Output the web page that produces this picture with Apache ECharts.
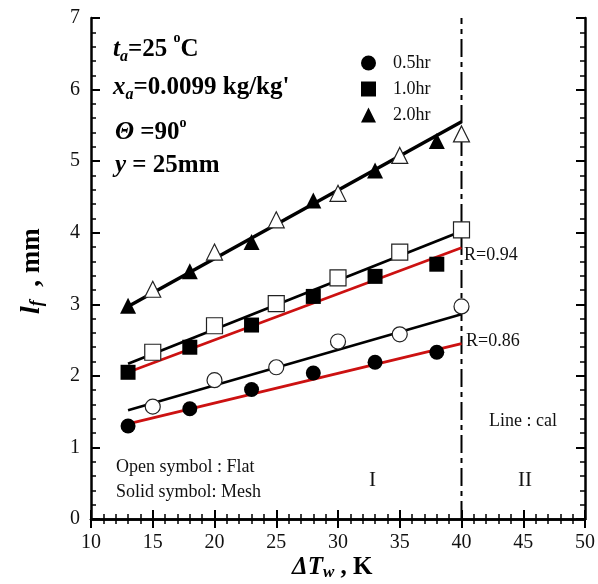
<!DOCTYPE html>
<html>
<head>
<meta charset="utf-8">
<script src="https://cdn.jsdelivr.net/npm/echarts@6/dist/echarts.min.js"></script>
<style>
html, body { margin: 0; padding: 0; background: #fff; }
#main { width: 598px; height: 584px; }
</style>
</head>
<body>
<div id="main"></div>
<script>
// data
var xSolid = [13, 18, 23, 28, 33, 38];
var xOpen = [15, 20, 25, 30, 35, 40];
var mesh05 = [1.30, 1.54, 1.81, 2.04, 2.19, 2.33];
var flat05 = [1.57, 1.94, 2.12, 2.48, 2.58, 2.97];
var mesh10 = [2.05, 2.40, 2.71, 3.11, 3.39, 3.56];
var flat10 = [2.33, 2.70, 3.01, 3.37, 3.73, 4.04];
var mesh20 = [2.98, 3.46, 3.87, 4.45, 4.87, 5.28];
var flat20 = [3.21, 3.73, 4.18, 4.55, 5.08, 5.38];

// calculated lines
var calX = [13, 40];
var cal05Flat = [1.52, 2.86];
var cal05Mesh = [1.33, 2.45];
var cal10Flat = [2.17, 4.02];
var cal10Mesh = [2.05, 3.79];
var cal20 = [2.97, 5.55];

var xTicks = [10, 15, 20, 25, 30, 35, 40, 45, 50];
var yTicks = [0, 1, 2, 3, 4, 5, 6, 7];
var boundaryX = 40;

var FONT = '"Liberation Serif", "Times New Roman", serif';

function pairs(xs, ys) {
    return xs.map(function(x, i) { return [x, ys[i]]; });
}

function solid(name, sym, size, ys) {
    return {
        name: name, type: 'scatter', symbol: sym, symbolSize: size,
        data: pairs(xSolid, ys), z: 5,
        itemStyle: { color: '#000', opacity: 1 }
    };
}
function open(sym, size, ys) {
    return {
        name: 'open-' + sym, type: 'scatter', symbol: sym, symbolSize: size,
        data: pairs(xOpen, ys), z: 5,
        itemStyle: { color: '#fff', borderColor: '#222', borderWidth: 1.2, opacity: 1 }
    };
}
function cal(ys, color, w) {
    return {
        type: 'line', data: pairs(calX, ys), symbol: 'none', z: 3,
        lineStyle: { color: color, width: w }, silent: true
    };
}

var axisCommon = {
    type: 'value',
    axisLine: { show: true, lineStyle: { color: '#000', width: 2.5 } },
    axisTick: { show: true, inside: true, length: 9, lineStyle: { color: '#000', width: 2 } },
    minorTick: { show: true, splitNumber: 5, length: 5, lineStyle: { color: '#000', width: 1.5 } },
    splitLine: { show: false }
};

function xAxis(pos, labels) {
    return echarts.util.merge({
        position: pos, min: xTicks[0], max: xTicks[xTicks.length - 1], interval: 5,
        axisLabel: { show: labels, color: '#111', fontFamily: FONT, fontSize: 20, margin: 14 }
    }, axisCommon, true);
}
function yAxis(pos, labels) {
    return echarts.util.merge({
        position: pos, min: yTicks[0], max: yTicks[yTicks.length - 1], interval: 1,
        axisLabel: { show: labels, color: '#111', fontFamily: FONT, fontSize: 20, margin: 11 }
    }, axisCommon, true);
}

var chart = echarts.init(document.getElementById('main'));

var bold = function(size, italic, lh, va, pad) {
    var s = { fontFamily: FONT, fontSize: size, fontWeight: 'bold', lineHeight: lh };
    if (italic) s.fontStyle = 'italic';
    if (va) s.verticalAlign = va;
    if (pad) s.padding = pad;
    return s;
};

var option = {
    backgroundColor: '#fff',
    animation: false,
    grid: { left: 91, right: 12, top: 18, bottom: 65 },
    xAxis: [xAxis('bottom', true), xAxis('top', false)],
    yAxis: [yAxis('left', true), yAxis('right', false)],
    legend: {
        orient: 'vertical', left: 356, top: 49,
        itemWidth: 15, itemHeight: 15, itemGap: 8,
        textStyle: { fontFamily: FONT, fontSize: 18, color: '#111', padding: [0, 0, 0, 12] },
        data: [
            { name: '0.5hr', icon: 'circle' },
            { name: '1.0hr', icon: 'rect' },
            { name: '2.0hr', icon: 'triangle' }
        ]
    },
    series: [
        cal(cal05Flat, '#000', 2.5),
        cal(cal05Mesh, '#cc1111', 2.8),
        cal(cal10Flat, '#000', 2.8),
        cal(cal10Mesh, '#cc1111', 2.8),
        cal(cal20, '#000', 3.5),
        {
            type: 'line', symbol: 'none', silent: true, z: 2,
            data: [[boundaryX, yTicks[0]], [boundaryX, yTicks[yTicks.length - 1]]],
            lineStyle: { color: '#000', width: 2, type: [18, 5, 5, 5] }
        },
        solid('0.5hr', 'circle', 15, mesh05),
        solid('1.0hr', 'rect', 15, mesh10),
        solid('2.0hr', 'triangle', 16, mesh20),
        open('circle', 15, flat05),
        open('rect', 16, flat10),
        open('triangle', 16, flat20)
    ],
    graphic: [
        {
            type: 'text', left: 113, top: 31,
            style: {
                text: '{i|t}{sub|a}{b|=25 }{sup|o}{b|C}\n{i|x}{sub|a}{b|=0.0099 kg/kg\'}',
                rich: {
                    i: bold(25, true, 38),
                    b: bold(25, false, 38),
                    sub: bold(16, true, 20, 'bottom', [0, 0, 4, 0]),
                    sup: bold(14, false, 28, 'top')
                },
                fill: '#000'
            }
        },
        {
            type: 'text', left: 115, top: 116,
            style: {
                text: '{i|Θ}{b| =90}{sup|o}\n{i|y}{b| = 25mm}',
                rich: {
                    i: bold(25, true, 33),
                    b: bold(25, false, 33),
                    sup: bold(14, false, 24, 'top')
                },
                fill: '#000'
            }
        },
        { type: 'text', left: 464, top: 246, style: { text: 'R=0.94', fontFamily: FONT, fontSize: 18, fill: '#111' } },
        { type: 'text', left: 466, top: 332, style: { text: 'R=0.86', fontFamily: FONT, fontSize: 18, fill: '#111' } },
        { type: 'text', left: 489, top: 412, style: { text: 'Line : cal', fontFamily: FONT, fontSize: 18, fill: '#111' } },
        { type: 'text', left: 369, top: 470, style: { text: 'I', fontFamily: FONT, fontSize: 21, fill: '#111' } },
        { type: 'text', left: 518, top: 470, style: { text: 'II', fontFamily: FONT, fontSize: 21, fill: '#111' } },
        {
            type: 'text', left: 116, top: 455,
            style: { text: 'Open symbol : Flat\nSolid symbol: Mesh', fontFamily: FONT, fontSize: 18, lineHeight: 25, fill: '#111' }
        },
        {
            type: 'text', left: 292, top: 555,
            style: {
                text: '{i|ΔT}{sub|w}{b| , K}',
                rich: {
                    i: bold(25, true, 34),
                    b: bold(25, false, 34),
                    sub: bold(17, true, 20, 'bottom', [0, 0, 3, 0])
                },
                fill: '#000'
            }
        },
        {
            type: 'text', x: 14, y: 314, rotation: Math.PI / 2,
            style: {
                text: '{i|l}{sub|f}{b|  , mm}',
                rich: {
                    i: bold(28, true, 36),
                    b: bold(27, false, 36),
                    sub: bold(18, true, 22, 'bottom', [0, 0, 4, 0])
                },
                fill: '#000'
            }
        }
    ]
};

chart.setOption(option);
</script>
</body>
</html>
